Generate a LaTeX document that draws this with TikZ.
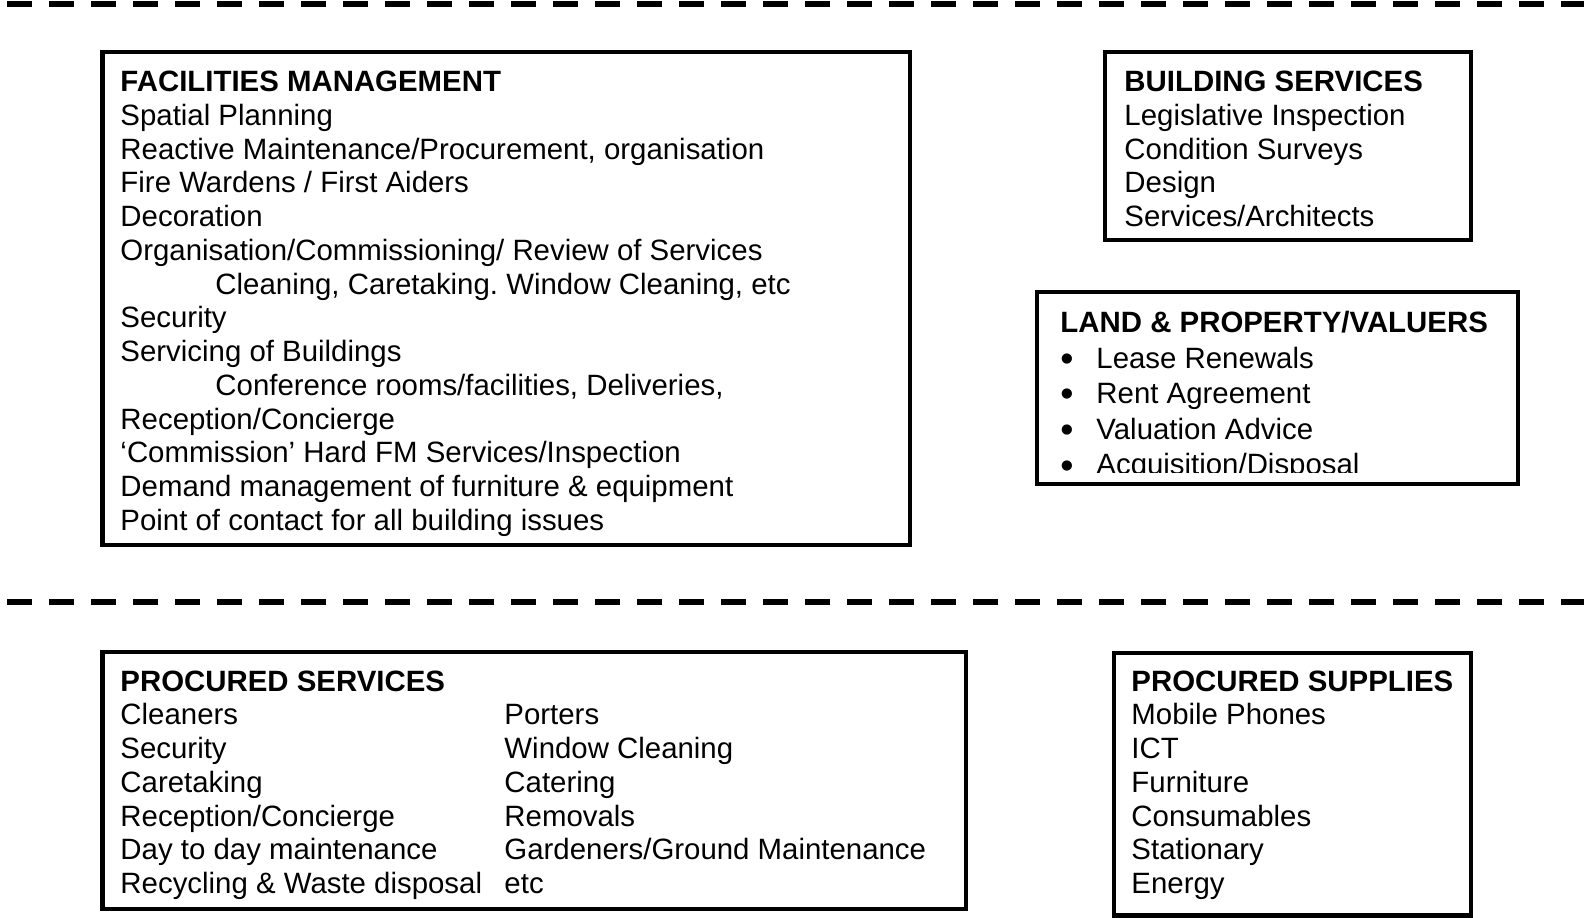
\documentclass[tikz,border=0pt]{standalone}
\usepackage{fontspec}
\setmainfont{Liberation Sans}
\usepackage{array}
\newcommand{\lpbullet}{\makebox[14.8pt][l]{\fontsize{15.5}{15.5}\selectfont\raisebox{-1.3pt}{\textbullet}}}
\begin{document}
\frenchspacing
\begin{tikzpicture}[x=0.4116pt,y=-0.4116pt,
  box/.style 2 args={draw, rectangle, line width=1.65pt, inner sep=0pt,
    minimum width=#1*0.4116pt, minimum height=#2*0.4116pt},
  sepline/.style={line width=2.26pt, line cap=butt, dash pattern=on 10.29pt off 7pt},
  txt/.style={anchor=base west, inner sep=0pt, font=\fontsize{12.1}{13.9}\selectfont},
  bullettxt/.style={anchor=base west, inner sep=0pt, font=\fontsize{12.1}{14.65}\selectfont}
]
\useasboundingbox (0,0) rectangle (1584,918);

% horizontal separators
\coordinate (topA) at (7,4);
\coordinate (topB) at (1584,4);
\coordinate (midA) at (7,602);
\coordinate (midB) at (1584,602);
\draw[sepline] (topA) -- (topB);
\draw[sepline] (midA) -- (midB);

% frames
\node[box={807.5}{493}]   (fmbox)  at (506.25,298.5) {};
\node[box={365.5}{188}]   (bsbox)  at (1287.75,146)  {};
\node[box={481}{192}]     (lpbox)  at (1277.5,388)   {};
\node[box={863}{257}]     (psbox)  at (534,780.5)    {};
\node[box={356.5}{262.5}] (psubox) at (1292.25,784.25) {};

% facilities management
\node[txt] (fmtext) at (120,91.5) {\begin{tabular}[t]{@{}l@{}}
\textbf{FACILITIES MANAGEMENT}\\
Spatial Planning\\
Reactive Maintenance/Procurement, organisation\\
Fire Wardens / First Aiders\\
Decoration\\
Organisation/Commissioning/ Review of Services\\
\hspace*{39.1pt}Cleaning, Caretaking. Window Cleaning, etc\\
Security\\
Servicing of Buildings\\
\hspace*{39.1pt}Conference rooms/facilities, Deliveries,\\
Reception/Concierge\\
‘Commission’ Hard FM Services/Inspection\\
Demand management of furniture \& equipment\\
Point of contact for all building issues
\end{tabular}};

% building services
\node[txt] (bstext) at (1124,91.5) {\begin{tabular}[t]{@{}l@{}}
\textbf{BUILDING SERVICES}\\
Legislative Inspection\\
Condition Surveys\\
Design\\
Services/Architects
\end{tabular}};

% land and property (text frame cuts the last line)
\begin{scope}
\clip (1040,294) rectangle (1516,472.5);
\node[bullettxt] (lptext) at (1060,332.5) {\begin{tabular}[t]{@{}l@{}}
\textbf{LAND \& PROPERTY/VALUERS}\\
\lpbullet Lease Renewals\\
\lpbullet Rent Agreement\\
\lpbullet Valuation Advice\\
\lpbullet Acquisition/Disposal
\end{tabular}};
\end{scope}

% procured services
\node[txt] (psleft) at (120,691) {\begin{tabular}[t]{@{}l@{}}
\textbf{PROCURED SERVICES}\\
Cleaners\\
Security\\
Caretaking\\
Reception/Concierge\\
Day to day maintenance\\
Recycling \& Waste disposal
\end{tabular}};
\node[txt] (psright) at (504,724.8) {\begin{tabular}[t]{@{}l@{}}
Porters\\
Window Cleaning\\
Catering\\
Removals\\
Gardeners/Ground Maintenance\\
etc
\end{tabular}};

% procured supplies
\node[txt] (psutext) at (1131,691) {\begin{tabular}[t]{@{}l@{}}
\textbf{PROCURED SUPPLIES}\\
Mobile Phones\\
ICT\\
Furniture\\
Consumables\\
Stationary\\
Energy
\end{tabular}};
\end{tikzpicture}
\end{document}
